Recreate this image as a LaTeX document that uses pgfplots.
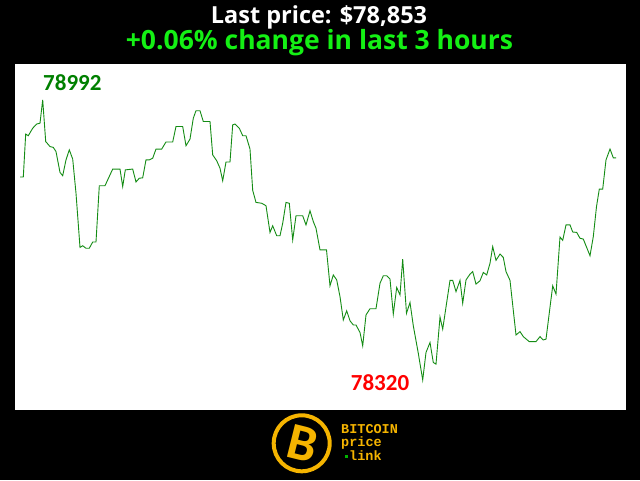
\documentclass[border=0pt]{standalone}
\usepackage{pgfplots}
\pgfplotsset{compat=1.18}
\usepackage{fontspec}
\setmainfont{Carlito}
\setmonofont{Liberation Mono}
\newfontfamily\titlefont{Open Sans}

\definecolor{linegreen}{RGB}{20,140,20}
\definecolor{lblgreen}{RGB}{0,128,0}
\definecolor{brightgreen}{RGB}{20,240,20}
\definecolor{gold}{RGB}{245,180,0}

\begin{document}
\begin{tikzpicture}[x=1pt,y=1pt]
\fill[black] (0,0) rectangle (640,480);
\useasboundingbox (0,0) rectangle (640,480);
\begin{axis}[
    at={(15pt,70pt)}, anchor=south west,
    scale only axis, width=611pt, height=346pt,
    xmin=15, xmax=626, ymin=78248, ymax=79078,
    axis line style={draw=none}, ticks=none,
    axis background/.style={fill=white}
]
\addplot[linegreen, line width=0.9pt] table {
x y
20 78807
23.3 78807
25.7 78910
28.3 78906
32.7 78924
36.7 78934
40 78936
42.7 78992
45.7 78892
50 78880
53.3 78878
56 78868
60 78818
62.7 78810
66 78848
69.3 78872
72.7 78850
76 78768
80 78638
82.7 78642
86 78636
89.3 78636
92.7 78651
96 78651
99.3 78786
105 78786
110 78812
112.7 78826
120 78826
122.7 78784
125.3 78824
132.7 78826
136 78795
139.3 78804
142.7 78805
146 78848
149.3 78848
152.7 78852
156 78874
161.7 78874
166 78891
172.7 78891
176 78928
182.7 78928
186 78882
190 78898
193.3 78948
196 78966
200 78966
203.3 78940
210 78940
212.7 78860
216.7 78846
220 78828
222.7 78798
226 78843
230 78843
232.7 78932
235 78934
239.3 78924
242.7 78906
246 78906
250 78874
252.7 78775
256 78746
261.7 78744
266 78738
270 78674
272.7 78690
276.7 78666
280 78666
282.7 78696
286 78746
289.3 78744
292.7 78656
296 78714
302.7 78714
306 78692
310 78726
313.3 78700
316 78684
320 78632
326.5 78632
330 78546
333.3 78572
336.7 78560
340 78520
343.3 78464
346.7 78486
350 78462
353.3 78452
356 78452
360 78434
362.7 78402
366 78476
370 78491
376 78491
380 78552
383.3 78570
386.7 78570
390 78562
393.3 78478
396.7 78542
400 78524
402.7 78610
406.5 78480
410 78506
413.3 78450
418.3 78384
422.7 78320
426 78386
430 78410
433.3 78362
436 78358
440 78471
442.7 78442
450 78559
452.7 78559
456 78532
460 78559
462.7 78504
466 78560
470 78574
472.7 78580
476 78550
480 78558
483.3 78578
486.7 78572
490 78600
492.7 78640
496 78607
500 78622
503.3 78614
506 78580
510 78559
516 78428
520 78436
523.3 78424
529.3 78412
536 78412
540 78424
543.3 78416
546 78418
552.7 78546
556 78526
560 78663
562.7 78655
566 78692
570 78692
572.7 78675
576.7 78674
580 78660
583.3 78658
590 78618
593.3 78664
596.5 78736
599.3 78778
602.7 78778
606 78848
610 78874
613.3 78853
616 78853
};
\end{axis}
% min / max labels
\node[anchor=base west, inner sep=0, text=lblgreen,
      font=\fontsize{23}{24}\selectfont\bfseries] at (43,389.3) {78992};
\node[anchor=base west, inner sep=0, text=red,
      font=\fontsize{23}{24}\selectfont\bfseries] at (350.7,89.3) {78320};
% titles
\node[anchor=base, inner sep=0, text=white,
      font=\titlefont\fontsize{23.5}{24}\selectfont\bfseries] at (319,456) {Last price: \$78,853};
\node[anchor=base, inner sep=0, text=brightgreen,
      font=\titlefont\fontsize{26.5}{27}\selectfont\bfseries] at (319.5,430) {+0.06\% change in last 3 hours};
% logo
\draw[gold, line width=4pt, fill=black] (301.7,36.7) circle (28);
\node[rotate=-14, text=gold, inner sep=0,
      font=\fontsize{52}{52}\selectfont\bfseries] at (303,36) {B};
\node[anchor=base west, inner sep=0, text=gold,
      font=\fontsize{13.5}{14}\selectfont\ttfamily\bfseries] at (341,46.7) {BITCOIN};
\node[anchor=base west, inner sep=0, text=gold,
      font=\fontsize{13.5}{14}\selectfont\ttfamily\bfseries] at (341,33.3) {price};
\node[anchor=base west, inner sep=0, text=gold,
      font=\fontsize{13.5}{14}\selectfont\ttfamily\bfseries] at (349,20) {link};
\fill[green!70!black] (344.5,21.8) rectangle (347.5,24.8);
\end{tikzpicture}
\end{document}
